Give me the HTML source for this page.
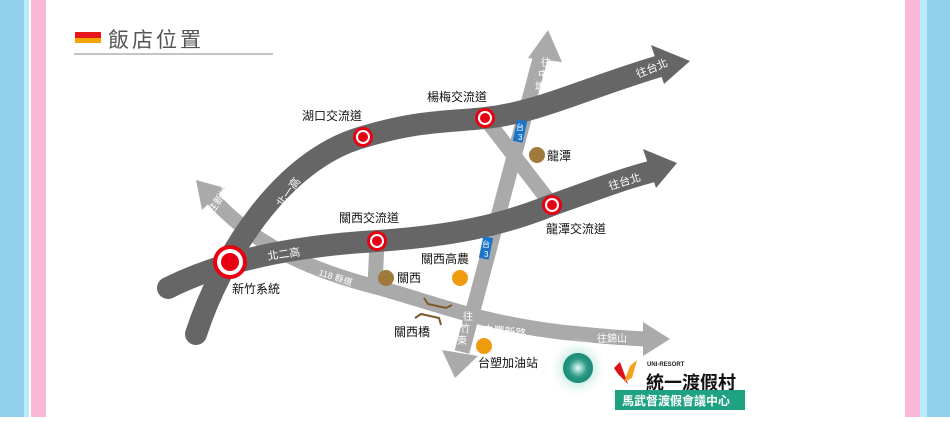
<!DOCTYPE html>
<html><head><meta charset="utf-8"><style>
body{margin:0;width:950px;height:417px;overflow:hidden;background:#fff;font-family:"Liberation Sans","Noto Sans CJK TC",sans-serif}
</style></head><body>
<svg width="950" height="417" viewBox="0 0 950 417" xmlns="http://www.w3.org/2000/svg" font-family="Liberation Sans, Noto Sans CJK TC, sans-serif">
<defs>
<radialGradient id="g1"><stop offset="0" stop-color="#e8fff8"/><stop offset="0.6" stop-color="#2a9a86"/><stop offset="1" stop-color="#1a8a76"/></radialGradient>
<radialGradient id="g2"><stop offset="0.4" stop-color="#bfe8df"/><stop offset="1" stop-color="#fff" stop-opacity="0"/></radialGradient>
</defs>
<rect x="0" y="0" width="24" height="417" fill="#92d0ee"/>
<rect x="24" y="0" width="5" height="417" fill="#b9ecfb"/>
<rect x="31" y="0" width="15" height="417" fill="#fbb8d6"/>
<rect x="905" y="0" width="15" height="417" fill="#fbb8d6"/>
<rect x="920" y="0" width="7" height="417" fill="#b9ecfb"/>
<rect x="927" y="0" width="23" height="417" fill="#92d0ee"/>
<rect x="75" y="32" width="26" height="6" fill="#e8141e"/>
<rect x="75" y="38" width="26" height="5" fill="#f4a500"/>
<text x="108" y="47" font-size="21" fill="#555" letter-spacing="3">飯店位置</text>
<line x1="74" y1="54" x2="273" y2="54" stroke="#888" stroke-width="1"/>

<g fill="none" stroke="#aaa" stroke-width="15">
<path d="M212,198 C250,240 300,268 380,288 C440,305 480,322 560,332 C600,336 620,338 648,339"/>
<path d="M541,55 L462,352"/>
<path d="M485,118 L552,205"/>
<path d="M377,241 L375,287"/>
</g>
<g fill="#aaa">
<polygon points="196,180 225,188 202,210"/>
<polygon points="670,339 643,322 643,356"/>
<polygon points="548,30 528,58 562,62"/>
<polygon points="455,378 442,350 478,356"/>
</g>
<g fill="none" stroke="#666" stroke-width="22">
<path d="M196,334 C220,260 280,160 363,137 C420,120 450,122 485,118 C540,112 580,90 660,66" stroke-linecap="round"/>
<path d="M168,288 C200,272 260,248 377,241 C450,236 500,226 552,205 C600,188 620,180 650,172" stroke-linecap="round"/>
</g>
<g fill="#666">
<polygon points="690,61 651,45 664,84"/>
<polygon points="677,163 643,149 656,188"/>
</g>
<g stroke="#7a5a2a" stroke-width="2" fill="none">
<path d="M424,298 L428,304 L446,308 L452,305"/>
<path d="M415,318 L421,314 L439,318 L441,325"/>
</g>
<g font-size="11" fill="#fff">
<text x="638" y="78" transform="rotate(-22 638 78)">往台北</text>
<text x="610" y="190" transform="rotate(-17 610 190)">往台北</text>
<text x="268" y="260" transform="rotate(-8 268 260)">北二高</text>
<text x="282" y="208" transform="rotate(-55 282 208)">北一高</text>
<text x="213" y="214" transform="rotate(-55 213 214)" font-size="10">往新埔</text>
<text x="482" y="333" transform="rotate(6 482 333)">中豐新路</text>
<text x="597" y="342" font-size="10">往錦山</text>
<text x="541" y="66" font-size="10">往</text>
<text x="538" y="78" font-size="10">中</text>
<text x="535" y="90" font-size="10">壢</text>
<text x="463" y="320" font-size="10">往</text>
<text x="460" y="332" font-size="10">竹</text>
<text x="457" y="344" font-size="10">東</text>
<text x="318" y="275" font-size="9" fill="#fff" transform="rotate(18 318 275)">118 縣道</text>
</g>
<g fill="#1a74c8"><rect x="515" y="120" width="10" height="22" transform="rotate(12 520 131)"/><rect x="481" y="237" width="10" height="22" transform="rotate(12 486 248)"/></g>
<g fill="#fff" font-size="8"><text x="516" y="130">台</text><text x="518" y="140">3</text><text x="482" y="247">台</text><text x="484" y="257">3</text></g>

<g fill="#e60012"><circle cx="363" cy="137" r="10"/><circle cx="485" cy="118" r="10"/><circle cx="377" cy="241" r="10"/><circle cx="552" cy="205" r="10"/><circle cx="230" cy="262" r="17"/></g>
<g fill="#fff"><circle cx="363" cy="137" r="7"/><circle cx="485" cy="118" r="7"/><circle cx="377" cy="241" r="7"/><circle cx="552" cy="205" r="7"/><circle cx="230" cy="262" r="13"/></g>
<g fill="#e60012"><circle cx="363" cy="137" r="5"/><circle cx="485" cy="118" r="5"/><circle cx="377" cy="241" r="5"/><circle cx="552" cy="205" r="5"/><circle cx="230" cy="262" r="9"/></g>
<g fill="#a07a3c"><circle cx="537" cy="155" r="8"/><circle cx="386" cy="278" r="8"/></g>
<g fill="#f09a10"><circle cx="460" cy="278" r="8"/><circle cx="484" cy="346" r="8"/></g>

<g font-size="12" fill="#111">
<text x="302" y="120">湖口交流道</text>
<text x="427" y="101">楊梅交流道</text>
<text x="339" y="222">關西交流道</text>
<text x="547" y="160">龍潭</text>
<text x="546" y="233">龍潭交流道</text>
<text x="397" y="282">關西</text>
<text x="421" y="263">關西高農</text>
<text x="232" y="293">新竹系統</text>
<text x="394" y="336">關西橋</text>
<text x="478" y="367">台塑加油站</text>
</g>
<circle cx="578" cy="368" r="30" fill="url(#g2)"/>
<circle cx="578" cy="368" r="15" fill="url(#g1)"/>
<path d="M614,368 L620,362 L628,384 L618,374 Z" fill="#e0101a"/>
<path d="M624,382 L630,366 L637,360 L632,378 Z" fill="#f4a020"/>
<text x="647" y="366" font-size="6" font-weight="bold" fill="#222">UNI-RESORT</text>
<text x="646" y="389" font-size="18" font-weight="bold" fill="#111">統一渡假村</text>
<rect x="615" y="390" width="130" height="20" fill="#1fa282"/>
<text x="622" y="405" font-size="12" font-weight="bold" fill="#fff">馬武督渡假會議中心</text>
</svg>
</body></html>
